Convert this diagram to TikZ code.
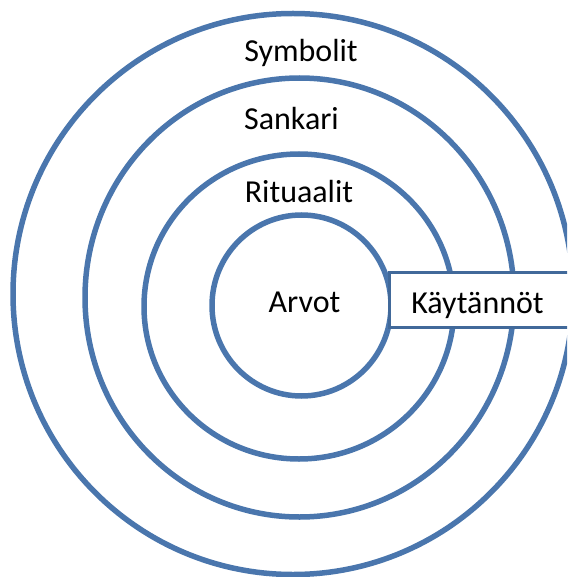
\documentclass[tikz,border=0pt]{standalone}
\usepackage{fontspec}
\setmainfont{Carlito}
\definecolor{ringblue}{HTML}{4A76AD}
\definecolor{boxblue}{HTML}{41699A}
\begin{document}
\begin{tikzpicture}[x=1pt,y=-1pt,
  ring/.style={draw=ringblue,line width=5.5pt},
  lbl/.style={font=\fontsize{32}{36}\selectfont,text=black,anchor=base,inner sep=0pt},
  boxstyle/.style={draw=boxblue,line width=3pt,fill=white}]
\useasboundingbox (0,0) rectangle (567,577);
\clip (0,0) rectangle (567,577);
\draw[ring] (293,294) ellipse [x radius=280, y radius=280.5];
\draw[ring] (299.5,297.5) ellipse [x radius=214.5, y radius=219.5];
\draw[ring] (299,306.5) ellipse [x radius=155, y radius=152.5];
\draw[ring] (301.5,305.5) ellipse [x radius=89.5, y radius=90.5];
\draw[boxstyle] (389,272) rectangle (590,327);
\node[lbl] (symbolit) at (301,62) {Symbolit};
\node[lbl] (sankari) at (291.5,130) {Sankari};
\node[lbl] (rituaalit) at (299,203) {Rituaalit};
\node[lbl] (arvot) at (304.5,312) {Arvot};
\node[lbl] (kaytannot) at (477.5,313) {Käytännöt};
\end{tikzpicture}
\end{document}
